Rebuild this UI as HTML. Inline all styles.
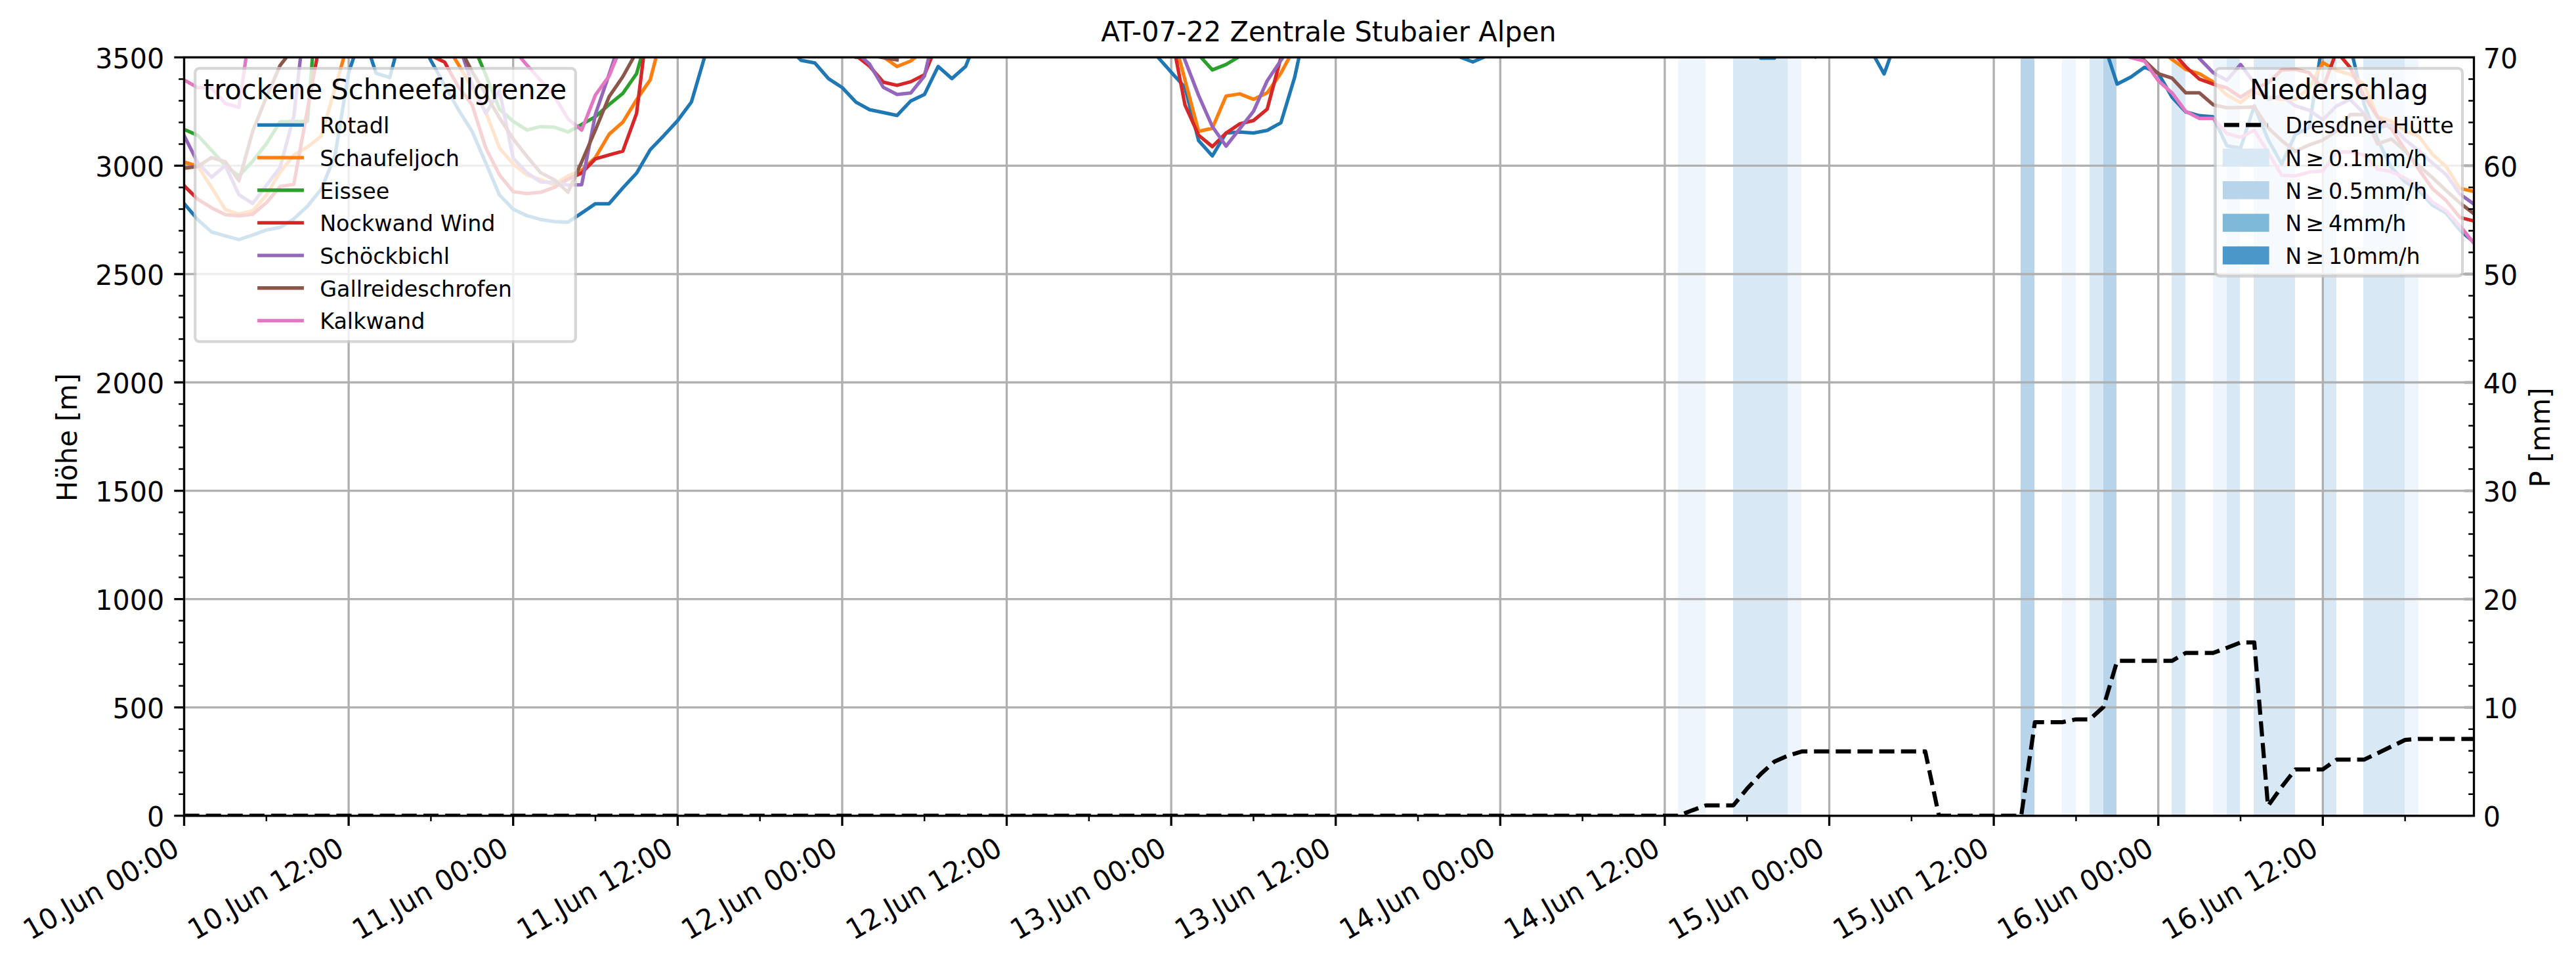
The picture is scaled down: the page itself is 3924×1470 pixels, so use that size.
<!DOCTYPE html>
<html lang="de"><head><meta charset="utf-8"><title>AT-07-22 Zentrale Stubaier Alpen</title>
<style>html,body{margin:0;padding:0;background:#fff}svg{display:block}text{font-family:"DejaVu Sans","Liberation Sans",sans-serif;fill:#000}.t10{font-size:41.667px}.t8{font-size:33.333px}</style>
</head><body>
<svg width="3924" height="1470" viewBox="0 0 3924 1470">
<rect width="3924" height="1470" fill="#fff"/>
<clipPath id="ax"><rect x="280.5" y="87.4" width="3488" height="1155.3"/></clipPath>
<g clip-path="url(#ax)" shape-rendering="crispEdges">
<rect x="2556.2" y="87.4" width="41.77" height="1155.3" fill="#eef5fc"/>
<rect x="2639.74" y="87.4" width="83.53" height="1155.3" fill="#d9e8f5"/>
<rect x="2723.27" y="87.4" width="20.88" height="1155.3" fill="#eef5fc"/>
<rect x="3078.29" y="87.4" width="20.88" height="1155.3" fill="#b7d4ea"/>
<rect x="3140.94" y="87.4" width="20.88" height="1155.3" fill="#eef5fc"/>
<rect x="3182.71" y="87.4" width="20.88" height="1155.3" fill="#d9e8f5"/>
<rect x="3203.59" y="87.4" width="20.88" height="1155.3" fill="#b7d4ea"/>
<rect x="3308.01" y="87.4" width="20.88" height="1155.3" fill="#d9e8f5"/>
<rect x="3370.66" y="87.4" width="20.88" height="1155.3" fill="#eef5fc"/>
<rect x="3391.54" y="87.4" width="20.88" height="1155.3" fill="#d9e8f5"/>
<rect x="3433.31" y="87.4" width="62.65" height="1155.3" fill="#d9e8f5"/>
<rect x="3537.73" y="87.4" width="20.88" height="1155.3" fill="#d9e8f5"/>
<rect x="3600.38" y="87.4" width="62.65" height="1155.3" fill="#d9e8f5"/>
<rect x="3663.03" y="87.4" width="20.88" height="1155.3" fill="#eef5fc"/>
</g>
<g stroke="#b0b0b0" stroke-width="3.333" fill="none">
<path d="M280.5 1242.7V87.4M531.1 1242.7V87.4M781.7 1242.7V87.4M1032.31 1242.7V87.4M1282.91 1242.7V87.4M1533.51 1242.7V87.4M1784.11 1242.7V87.4M2034.71 1242.7V87.4M2285.32 1242.7V87.4M2535.92 1242.7V87.4M2786.52 1242.7V87.4M3037.12 1242.7V87.4M3287.72 1242.7V87.4M3538.33 1242.7V87.4M280.5 1242.7H3768.5M280.5 1077.66H3768.5M280.5 912.61H3768.5M280.5 747.57H3768.5M280.5 582.53H3768.5M280.5 417.49H3768.5M280.5 252.44H3768.5M280.5 87.4H3768.5"/>
</g>
<g clip-path="url(#ax)" fill="none" stroke-width="5.3" stroke-linejoin="round" stroke-linecap="square">
<polyline stroke="#1f77b4" points="280.5,310.1 301.38,334.7 322.27,353.4 343.15,359.3 364.03,365 384.92,358 405.8,350.3 426.68,346.4 447.57,333.4 468.45,314 489.34,288.1 510.22,237.5 531.1,110.7 551.99,48 572.87,111.5 593.75,118.1 614.64,38.7 635.52,52.6 656.4,92.2 677.29,129.7 698.17,166.8 719.05,199.8 739.94,248.2 760.82,297 781.7,318.6 802.59,328.5 823.47,334.3 844.35,337.6 865.24,338.5 886.12,324.5 907,310.3 927.89,310.3 948.77,286.2 969.66,263.8 990.54,228 1011.42,206.3 1032.31,183.6 1053.19,155.5 1074.07,84.3 1094.96,40 1115.84,30 1136.72,30 1157.61,30 1178.49,30 1199.37,71 1220.26,91.9 1241.14,95.8 1262.02,119.8 1282.91,133.4 1303.79,155.5 1324.68,167.1 1345.56,171.4 1366.44,175.9 1387.33,153.8 1408.21,143.8 1429.09,101.2 1449.98,119.8 1470.86,101.2 1491.74,50 1512.63,30 1533.51,30 1554.39,30 1575.28,30 1596.16,30 1617.04,30 1637.93,30 1658.81,30 1679.69,30 1700.58,30 1721.46,30 1742.35,60 1763.23,86.6 1784.11,109.9 1805,133.1 1825.88,214.3 1846.76,237.5 1867.65,202.7 1888.53,201.1 1909.41,202.7 1930.3,198.6 1951.18,187 1972.06,118.1 1992.95,22 2013.83,30 2034.71,30 2055.6,30 2076.48,30 2097.36,30 2118.25,30 2139.13,30 2160.02,30 2180.9,30 2201.78,30 2222.67,86.2 2243.55,94.4 2264.43,85.2 2285.32,30 2306.2,30 2327.08,30 2347.97,30 2368.85,30 2389.73,30 2410.62,30 2431.5,30 2452.38,30 2473.27,30 2494.15,30 2515.03,30 2535.92,30 2556.8,30 2577.68,30 2598.57,30 2619.45,30 2640.34,30 2661.22,40 2682.1,88.6 2702.99,88.6 2723.87,40 2744.75,60 2765.64,87 2786.52,60 2807.4,30 2828.29,30 2849.17,75.2 2870.05,112.7 2890.94,54.5 2911.82,30 2932.7,30 2953.59,30 2974.47,30 2995.36,30 3016.24,30 3037.12,30 3058.01,30 3078.89,30 3099.77,30 3120.66,30 3141.54,30 3162.42,30 3183.31,30 3204.19,64.6 3225.07,128.1 3245.96,117.3 3266.84,102.4 3287.72,111.5 3308.61,148 3329.49,170.4 3350.37,176.2 3371.26,177.8 3392.14,222.1 3413.03,225.5 3433.91,161.3 3454.79,212.2 3475.68,249.8 3496.56,204.7 3517.44,194.4 3538.33,61 3559.21,40 3580.09,70.2 3600.98,157.9 3621.86,212.7 3642.74,255.2 3663.63,276.8 3684.51,290.2 3705.39,312.6 3726.28,324.5 3747.16,350.9 3768.04,368.4"/>
<polyline stroke="#ff7f0e" points="280.5,246.8 301.38,253.1 322.27,285.5 343.15,319.2 364.03,326.2 384.92,321.2 405.8,297.2 426.68,262.2 447.57,236.3 468.45,224 489.34,207.3 510.22,134.8 531.1,62 551.99,30 572.87,30 593.75,30 614.64,30 635.52,30 656.4,30 677.29,63.7 698.17,98.2 719.05,133.6 739.94,170.4 760.82,225.4 781.7,249.8 802.59,266.3 823.47,273.8 844.35,281.3 865.24,268 886.12,259.7 907,239.9 927.89,204.5 948.77,186.1 969.66,152.1 990.54,121.5 1011.42,41 1032.31,30 1053.19,30 1074.07,30 1094.96,30 1115.84,30 1136.72,30 1157.61,30 1178.49,30 1199.37,30 1220.26,30 1241.14,30 1262.02,30 1282.91,30 1303.79,30 1324.68,70 1345.56,86.5 1366.44,101.4 1387.33,92.9 1408.21,76 1429.09,30 1449.98,30 1470.86,30 1491.74,30 1512.63,30 1533.51,30 1554.39,30 1575.28,30 1596.16,30 1617.04,30 1637.93,30 1658.81,30 1679.69,30 1700.58,30 1721.46,30 1742.35,30 1763.23,30 1784.11,42.7 1805,121.5 1825.88,200.2 1846.76,195.3 1867.65,146.3 1888.53,143 1909.41,151.3 1930.3,141.4 1951.18,111.5 1972.06,72.5 1992.95,30 2013.83,30 2034.71,30 2055.6,30 2076.48,30 2097.36,30 2118.25,30 2139.13,30 2160.02,30 2180.9,30 2201.78,30 2222.67,30 2243.55,30 2264.43,30 2285.32,30 2306.2,30 2327.08,30 2347.97,30 2368.85,30 2389.73,30 2410.62,30 2431.5,30 2452.38,30 2473.27,30 2494.15,30 2515.03,30 2535.92,30 2556.8,30 2577.68,30 2598.57,30 2619.45,30 2640.34,30 2661.22,30 2682.1,30 2702.99,30 2723.87,30 2744.75,30 2765.64,30 2786.52,30 2807.4,30 2828.29,30 2849.17,30 2870.05,30 2890.94,30 2911.82,30 2932.7,30 2953.59,30 2974.47,30 2995.36,30 3016.24,30 3037.12,30 3058.01,30 3078.89,30 3099.77,30 3120.66,30 3141.54,30 3162.42,30 3183.31,30 3204.19,30 3225.07,30 3245.96,30 3266.84,30 3287.72,75 3308.61,90.3 3329.49,105.7 3350.37,112.3 3371.26,124.8 3392.14,144.7 3413.03,156.3 3433.91,139.7 3454.79,148 3475.68,151.3 3496.56,151.3 3517.44,134.7 3538.33,95.3 3559.21,107.4 3580.09,113.2 3600.98,128.1 3621.86,177.8 3642.74,184.5 3663.63,199.4 3684.51,207.7 3705.39,235 3726.28,253.9 3747.16,287 3768.04,291.6"/>
<polyline stroke="#2ca02c" points="280.5,197.1 301.38,206.3 322.27,229 343.15,252 364.03,268 384.92,245.5 405.8,219 426.68,185.7 447.57,184.9 468.45,184.9 489.34,-86 510.22,30 531.1,30 551.99,30 572.87,30 593.75,30 614.64,30 635.52,30 656.4,30 677.29,30 698.17,30 719.05,64.6 739.94,114 760.82,166.2 781.7,184.8 802.59,198.1 823.47,192.8 844.35,193.8 865.24,201.1 886.12,189.5 907,177.8 927.89,159.3 948.77,142.2 969.66,112.3 990.54,39 1011.42,30 1032.31,30 1053.19,30 1074.07,30 1094.96,30 1115.84,30 1136.72,30 1157.61,30 1178.49,30 1199.37,30 1220.26,30 1241.14,30 1262.02,30 1282.91,30 1303.79,30 1324.68,30 1345.56,30 1366.44,30 1387.33,30 1408.21,30 1429.09,30 1449.98,30 1470.86,30 1491.74,30 1512.63,30 1533.51,30 1554.39,30 1575.28,30 1596.16,30 1617.04,30 1637.93,30 1658.81,30 1679.69,30 1700.58,30 1721.46,30 1742.35,30 1763.23,30 1784.11,30 1805,60 1825.88,83.3 1846.76,106.5 1867.65,98.2 1888.53,85.8 1909.41,70 1930.3,30 1951.18,30 1972.06,30 1992.95,30 2013.83,30 2034.71,30 2055.6,30 2076.48,30 2097.36,30 2118.25,30 2139.13,30 2160.02,30 2180.9,30 2201.78,30 2222.67,30 2243.55,30 2264.43,30 2285.32,30 2306.2,30 2327.08,30 2347.97,30 2368.85,30 2389.73,30 2410.62,30 2431.5,30 2452.38,30 2473.27,30 2494.15,30 2515.03,30 2535.92,30 2556.8,30 2577.68,30 2598.57,30 2619.45,30 2640.34,30 2661.22,30 2682.1,30 2702.99,30 2723.87,30 2744.75,30 2765.64,30 2786.52,30 2807.4,30 2828.29,30 2849.17,30 2870.05,30 2890.94,30 2911.82,30 2932.7,30 2953.59,30 2974.47,30 2995.36,30 3016.24,30 3037.12,30 3058.01,30 3078.89,30 3099.77,30 3120.66,30 3141.54,30 3162.42,30 3183.31,30 3204.19,30 3225.07,30 3245.96,30 3266.84,30 3287.72,30 3308.61,30 3329.49,30 3350.37,30 3371.26,30 3392.14,30 3413.03,30 3433.91,30 3454.79,30 3475.68,30 3496.56,30 3517.44,30 3538.33,30 3559.21,30 3580.09,30 3600.98,30 3621.86,30 3642.74,30 3663.63,30 3684.51,30 3705.39,30 3726.28,30 3747.16,30 3768.04,30"/>
<polyline stroke="#d62728" points="280.5,282.9 301.38,303.6 322.27,316.6 343.15,326.9 364.03,328.8 384.92,326.4 405.8,308.8 426.68,284.2 447.57,280.8 468.45,166.7 489.34,52.5 510.22,30 531.1,30 551.99,30 572.87,30 593.75,30 614.64,30 635.52,80 656.4,84.5 677.29,94.6 698.17,132.2 719.05,159.3 739.94,225.4 760.82,266.3 781.7,292 802.59,294.9 823.47,292.9 844.35,285.4 865.24,273 886.12,263.5 907,242 927.89,236 948.77,230.2 969.66,172.9 990.54,3.7 1011.42,30 1032.31,30 1053.19,30 1074.07,30 1094.96,30 1115.84,30 1136.72,30 1157.61,30 1178.49,30 1199.37,30 1220.26,30 1241.14,30 1262.02,76 1282.91,80 1303.79,84.5 1324.68,101 1345.56,125.1 1366.44,130 1387.33,124.5 1408.21,113.8 1429.09,62.6 1449.98,30 1470.86,30 1491.74,30 1512.63,30 1533.51,30 1554.39,30 1575.28,30 1596.16,30 1617.04,30 1637.93,30 1658.81,30 1679.69,30 1700.58,30 1721.46,30 1742.35,30 1763.23,30 1784.11,51.3 1805,159.6 1825.88,206 1846.76,223.4 1867.65,202.7 1888.53,188.6 1909.41,183.6 1930.3,166.2 1951.18,87.8 1972.06,40 1992.95,30 2013.83,30 2034.71,30 2055.6,30 2076.48,30 2097.36,30 2118.25,30 2139.13,30 2160.02,30 2180.9,30 2201.78,30 2222.67,30 2243.55,30 2264.43,30 2285.32,30 2306.2,30 2327.08,30 2347.97,30 2368.85,30 2389.73,30 2410.62,30 2431.5,30 2452.38,30 2473.27,30 2494.15,30 2515.03,30 2535.92,30 2556.8,30 2577.68,30 2598.57,30 2619.45,30 2640.34,30 2661.22,30 2682.1,30 2702.99,30 2723.87,30 2744.75,30 2765.64,30 2786.52,30 2807.4,30 2828.29,30 2849.17,30 2870.05,30 2890.94,30 2911.82,30 2932.7,30 2953.59,30 2974.47,30 2995.36,30 3016.24,30 3037.12,30 3058.01,30 3078.89,30 3099.77,30 3120.66,30 3141.54,30 3162.42,30 3183.31,30 3204.19,30 3225.07,30 3245.96,30 3266.84,30 3287.72,30 3308.61,78.3 3329.49,101.6 3350.37,120.6 3371.26,128.1 3392.14,133.9 3413.03,148 3433.91,134.7 3454.79,126.4 3475.68,106.5 3496.56,105.7 3517.44,110.7 3538.33,134.7 3559.21,78.3 3580.09,103 3600.98,145.5 3621.86,178.7 3642.74,196.1 3663.63,228 3684.51,257.9 3705.39,287.6 3726.28,305.6 3747.16,331.2 3768.04,336.6"/>
<polyline stroke="#9467bd" points="280.5,206.7 301.38,248 322.27,270 343.15,252 364.03,296.8 384.92,310 405.8,282.5 426.68,254.9 447.57,177.2 468.45,-6.6 489.34,30 510.22,30 531.1,30 551.99,30 572.87,30 593.75,30 614.64,30 635.52,30 656.4,30 677.29,30 698.17,65 719.05,128 739.94,172.9 760.82,138 781.7,241 802.59,263 823.47,277.1 844.35,277.9 865.24,282.1 886.12,281.3 907,174 927.89,113.2 948.77,50 969.66,30 990.54,30 1011.42,30 1032.31,30 1053.19,30 1074.07,30 1094.96,30 1115.84,30 1136.72,30 1157.61,30 1178.49,30 1199.37,30 1220.26,30 1241.14,30 1262.02,30 1282.91,30 1303.79,78.3 1324.68,97.8 1345.56,133 1366.44,143.8 1387.33,141.6 1408.21,115.8 1429.09,25 1449.98,30 1470.86,30 1491.74,30 1512.63,30 1533.51,30 1554.39,30 1575.28,30 1596.16,30 1617.04,30 1637.93,30 1658.81,30 1679.69,30 1700.58,30 1721.46,30 1742.35,30 1763.23,30 1784.11,39 1805,91.6 1825.88,145.5 1846.76,192.8 1867.65,222.6 1888.53,196.1 1909.41,169.6 1930.3,123.1 1951.18,91.9 1972.06,63 1992.95,30 2013.83,30 2034.71,30 2055.6,30 2076.48,30 2097.36,30 2118.25,30 2139.13,30 2160.02,30 2180.9,30 2201.78,30 2222.67,30 2243.55,30 2264.43,30 2285.32,30 2306.2,30 2327.08,30 2347.97,30 2368.85,30 2389.73,30 2410.62,30 2431.5,30 2452.38,30 2473.27,30 2494.15,30 2515.03,30 2535.92,30 2556.8,30 2577.68,30 2598.57,30 2619.45,30 2640.34,30 2661.22,30 2682.1,30 2702.99,30 2723.87,30 2744.75,30 2765.64,30 2786.52,30 2807.4,30 2828.29,30 2849.17,30 2870.05,30 2890.94,30 2911.82,30 2932.7,30 2953.59,30 2974.47,30 2995.36,30 3016.24,30 3037.12,30 3058.01,30 3078.89,30 3099.77,30 3120.66,30 3141.54,30 3162.42,30 3183.31,30 3204.19,30 3225.07,30 3245.96,30 3266.84,30 3287.72,30 3308.61,30 3329.49,60 3350.37,89.1 3371.26,110.7 3392.14,122.3 3413.03,98.2 3433.91,126.4 3454.79,151.3 3475.68,146.3 3496.56,161.3 3517.44,167.9 3538.33,182.4 3559.21,161.3 3580.09,151.3 3600.98,172.9 3621.86,194.4 3642.74,190.3 3663.63,212.7 3684.51,229.8 3705.39,248.5 3726.28,266 3747.16,295.6 3768.04,310.5"/>
<polyline stroke="#8c564b" points="280.5,256.2 301.38,253.6 322.27,240.1 343.15,246.2 364.03,275.3 384.92,200 405.8,148 426.68,99.6 447.57,73 468.45,30 489.34,30 510.22,30 531.1,30 551.99,30 572.87,30 593.75,30 614.64,30 635.52,30 656.4,30 677.29,30 698.17,68.2 719.05,109 739.94,143 760.82,179.5 781.7,211.3 802.59,238.2 823.47,263 844.35,273.8 865.24,292.9 886.12,246.5 907,198 927.89,147.2 948.77,116.8 969.66,79.2 990.54,40 1011.42,30 1032.31,30 1053.19,30 1074.07,30 1094.96,30 1115.84,30 1136.72,30 1157.61,30 1178.49,30 1199.37,30 1220.26,30 1241.14,30 1262.02,30 1282.91,80 1303.79,87.3 1324.68,84.2 1345.56,87.8 1366.44,91.2"/>
<polyline stroke="#8c564b" points="3245.96,72 3266.84,92.4 3287.72,112.3 3308.61,119 3329.49,141.4 3350.37,141.4 3371.26,159.6 3392.14,164.2 3413.03,163.7 3433.91,163 3454.79,194.4 3475.68,214.1 3496.56,230.7 3517.44,220.7 3538.33,213.4 3559.21,199.7 3580.09,174.5 3600.98,174.5 3621.86,219.3 3642.74,211.8 3663.63,229.8 3684.51,252.5 3705.39,270.6 3726.28,290.2 3747.16,309.1 3768.04,325.3"/>
<polyline stroke="#e377c2" points="280.5,121.8 301.38,133.6 322.27,134 343.15,157.6 364.03,163.5 384.92,16 405.8,30 426.68,30 447.57,30 468.45,30 489.34,30 510.22,30 531.1,30 551.99,30 572.87,30 593.75,30 614.64,30 635.52,30 656.4,30 677.29,30 698.17,30 719.05,30 739.94,30 760.82,30 781.7,74.4 802.59,99.1 823.47,122.3 844.35,146.3 865.24,181.2 886.12,198.1 907,144.7 927.89,115.7 948.77,64.7 969.66,30 990.54,30 1011.42,30 1032.31,30 1053.19,30 1074.07,30 1094.96,30 1115.84,30 1136.72,30 1157.61,30 1178.49,30 1199.37,30 1220.26,30 1241.14,30 1262.02,30 1282.91,30 1303.79,30 1324.68,30 1345.56,30 1366.44,30 1387.33,30 1408.21,30 1429.09,30 1449.98,30 1470.86,30 1491.74,30 1512.63,30 1533.51,30 1554.39,30 1575.28,30 1596.16,30 1617.04,30 1637.93,30 1658.81,30 1679.69,30 1700.58,30 1721.46,30 1742.35,30 1763.23,30 1784.11,30 1805,30 1825.88,30 1846.76,30 1867.65,30 1888.53,30 1909.41,30 1930.3,30 1951.18,30 1972.06,30 1992.95,30 2013.83,30 2034.71,30 2055.6,30 2076.48,30 2097.36,30 2118.25,30 2139.13,30 2160.02,30 2180.9,30 2201.78,30 2222.67,30 2243.55,30 2264.43,30 2285.32,30 2306.2,30 2327.08,30 2347.97,30 2368.85,30 2389.73,30 2410.62,30 2431.5,30 2452.38,30 2473.27,30 2494.15,30 2515.03,30 2535.92,30 2556.8,30 2577.68,30 2598.57,30 2619.45,30 2640.34,30 2661.22,30 2682.1,30 2702.99,30 2723.87,30 2744.75,30 2765.64,30 2786.52,30 2807.4,30 2828.29,30 2849.17,30 2870.05,30 2890.94,30 2911.82,30 2932.7,30 2953.59,30 2974.47,30 2995.36,30 3016.24,30 3037.12,30 3058.01,30 3078.89,30 3099.77,30 3120.66,30 3141.54,30 3162.42,30 3183.31,30 3204.19,30 3225.07,80 3245.96,87.8 3266.84,93.3 3287.72,123.1 3308.61,141.4 3329.49,169.6 3350.37,180.3 3371.26,180.3 3392.14,203.4 3413.03,209.2 3433.91,198.4 3454.79,231.5 3475.68,267.2 3496.56,268 3517.44,262.2 3538.33,260.5 3559.21,231.5 3580.09,231.5 3600.98,236 3621.86,257.9 3642.74,261.4 3663.63,271.4 3684.51,284.9 3705.39,307.8 3726.28,321 3747.16,344 3768.04,370"/>
</g>
<rect x="297.2" y="104.1" width="579.6" height="416.3" rx="6.67" ry="6.67" fill="#fff" stroke="#ccc" stroke-width="4.167" opacity="0.8"/>
<text class="t10" transform="translate(309.8 151.4) scale(1 1.04)">trockene Schneefallgrenze</text>
<path d="M392.1 190.4H462.9" stroke="#1f77b4" stroke-width="5.3" fill="none"/>
<text class="t8" transform="translate(487.17 203.2) scale(1 1.01)">Rotadl</text>
<path d="M392.1 240.07H462.9" stroke="#ff7f0e" stroke-width="5.3" fill="none"/>
<text class="t8" transform="translate(487.17 252.87) scale(1 1.01)">Schaufeljoch</text>
<path d="M392.1 289.73H462.9" stroke="#2ca02c" stroke-width="5.3" fill="none"/>
<text class="t8" transform="translate(487.17 302.53) scale(1 1.01)">Eissee</text>
<path d="M392.1 339.4H462.9" stroke="#d62728" stroke-width="5.3" fill="none"/>
<text class="t8" transform="translate(487.17 352.2) scale(1 1.01)">Nockwand Wind</text>
<path d="M392.1 389.07H462.9" stroke="#9467bd" stroke-width="5.3" fill="none"/>
<text class="t8" transform="translate(487.17 401.87) scale(1 1.01)">Schöckbichl</text>
<path d="M392.1 438.74H462.9" stroke="#8c564b" stroke-width="5.3" fill="none"/>
<text class="t8" transform="translate(487.17 451.53) scale(1 1.01)">Gallreideschrofen</text>
<path d="M392.1 488.4H462.9" stroke="#e377c2" stroke-width="5.3" fill="none"/>
<text class="t8" transform="translate(487.17 501.2) scale(1 1.01)">Kalkwand</text>
<g clip-path="url(#ax)"><polyline points="280.5,1242.7 301.38,1242.7 322.27,1242.7 343.15,1242.7 364.03,1242.7 384.92,1242.7 405.8,1242.7 426.68,1242.7 447.57,1242.7 468.45,1242.7 489.34,1242.7 510.22,1242.7 531.1,1242.7 551.99,1242.7 572.87,1242.7 593.75,1242.7 614.64,1242.7 635.52,1242.7 656.4,1242.7 677.29,1242.7 698.17,1242.7 719.05,1242.7 739.94,1242.7 760.82,1242.7 781.7,1242.7 802.59,1242.7 823.47,1242.7 844.35,1242.7 865.24,1242.7 886.12,1242.7 907,1242.7 927.89,1242.7 948.77,1242.7 969.66,1242.7 990.54,1242.7 1011.42,1242.7 1032.31,1242.7 1053.19,1242.7 1074.07,1242.7 1094.96,1242.7 1115.84,1242.7 1136.72,1242.7 1157.61,1242.7 1178.49,1242.7 1199.37,1242.7 1220.26,1242.7 1241.14,1242.7 1262.02,1242.7 1282.91,1242.7 1303.79,1242.7 1324.68,1242.7 1345.56,1242.7 1366.44,1242.7 1387.33,1242.7 1408.21,1242.7 1429.09,1242.7 1449.98,1242.7 1470.86,1242.7 1491.74,1242.7 1512.63,1242.7 1533.51,1242.7 1554.39,1242.7 1575.28,1242.7 1596.16,1242.7 1617.04,1242.7 1637.93,1242.7 1658.81,1242.7 1679.69,1242.7 1700.58,1242.7 1721.46,1242.7 1742.35,1242.7 1763.23,1242.7 1784.11,1242.7 1805,1242.7 1825.88,1242.7 1846.76,1242.7 1867.65,1242.7 1888.53,1242.7 1909.41,1242.7 1930.3,1242.7 1951.18,1242.7 1972.06,1242.7 1992.95,1242.7 2013.83,1242.7 2034.71,1242.7 2055.6,1242.7 2076.48,1242.7 2097.36,1242.7 2118.25,1242.7 2139.13,1242.7 2160.02,1242.7 2180.9,1242.7 2201.78,1242.7 2222.67,1242.7 2243.55,1242.7 2264.43,1242.7 2285.32,1242.7 2306.2,1242.7 2327.08,1242.7 2347.97,1242.7 2368.85,1242.7 2389.73,1242.7 2410.62,1242.7 2431.5,1242.7 2452.38,1242.7 2473.27,1242.7 2494.15,1242.7 2515.03,1242.7 2535.92,1242.7 2556.8,1242.7 2577.68,1234.45 2598.57,1226.86 2619.45,1226.86 2640.34,1226.86 2661.22,1201.44 2682.1,1179.16 2702.99,1160.18 2723.87,1151.1 2744.75,1144.66 2765.64,1144.66 2786.52,1144.66 2807.4,1144.66 2828.29,1144.66 2849.17,1144.66 2870.05,1144.66 2890.94,1144.66 2911.82,1144.66 2932.7,1144.66 2953.59,1242.7 2974.47,1242.7 2995.36,1242.7 3016.24,1242.7 3037.12,1242.7 3058.01,1242.7 3078.89,1242.7 3099.77,1100.1 3120.66,1100.1 3141.54,1100.1 3162.42,1095.81 3183.31,1095.81 3204.19,1076.83 3225.07,1006.69 3245.96,1006.69 3266.84,1006.69 3287.72,1006.69 3308.61,1006.69 3329.49,994.64 3350.37,994.64 3371.26,994.64 3392.14,986.88 3413.03,978.63 3433.91,978.63 3454.79,1227.85 3475.68,1198.63 3496.56,1172.06 3517.44,1172.06 3538.33,1172.06 3559.21,1157.21 3580.09,1157.21 3600.98,1157.21 3621.86,1147.31 3642.74,1137.24 3663.63,1127.17 3684.51,1125.52 3705.39,1125.52 3726.28,1125.52 3747.16,1125.52 3768.04,1125.52" fill="none" stroke="#000" stroke-width="6.25" stroke-dasharray="23.125 10" stroke-dashoffset="0" stroke-linejoin="round"/></g>
<path d="M280.5 1242.7h-15.2M280.5 1077.66h-15.2M280.5 912.61h-15.2M280.5 747.57h-15.2M280.5 582.53h-15.2M280.5 417.49h-15.2M280.5 252.44h-15.2M280.5 87.4h-15.2M280.5 1242.7v15.2M531.1 1242.7v15.2M781.7 1242.7v15.2M1032.31 1242.7v15.2M1282.91 1242.7v15.2M1533.51 1242.7v15.2M1784.11 1242.7v15.2M2034.71 1242.7v15.2M2285.32 1242.7v15.2M2535.92 1242.7v15.2M2786.52 1242.7v15.2M3037.12 1242.7v15.2M3287.72 1242.7v15.2M3538.33 1242.7v15.2" stroke="#000" stroke-width="3.333" fill="none"/>
<path d="M280.5 1209.69h-8.33M280.5 1176.68h-8.33M280.5 1143.67h-8.33M280.5 1110.67h-8.33M280.5 1044.65h-8.33M280.5 1011.64h-8.33M280.5 978.63h-8.33M280.5 945.62h-8.33M280.5 879.61h-8.33M280.5 846.6h-8.33M280.5 813.59h-8.33M280.5 780.58h-8.33M280.5 714.56h-8.33M280.5 681.55h-8.33M280.5 648.55h-8.33M280.5 615.54h-8.33M280.5 549.52h-8.33M280.5 516.51h-8.33M280.5 483.5h-8.33M280.5 450.49h-8.33M280.5 384.48h-8.33M280.5 351.47h-8.33M280.5 318.46h-8.33M280.5 285.45h-8.33M280.5 219.43h-8.33M280.5 186.43h-8.33M280.5 153.42h-8.33M280.5 120.41h-8.33M405.8 1242.7v8.33M656.4 1242.7v8.33M907 1242.7v8.33M1157.61 1242.7v8.33M1408.21 1242.7v8.33M1658.81 1242.7v8.33M1909.41 1242.7v8.33M2160.02 1242.7v8.33M2410.62 1242.7v8.33M2661.22 1242.7v8.33M2911.82 1242.7v8.33M3162.42 1242.7v8.33M3413.03 1242.7v8.33M3663.63 1242.7v8.33M3768.5 1209.69h-8.33M3768.5 1176.68h-8.33M3768.5 1143.67h-8.33M3768.5 1110.67h-8.33M3768.5 1044.65h-8.33M3768.5 1011.64h-8.33M3768.5 978.63h-8.33M3768.5 945.62h-8.33M3768.5 879.61h-8.33M3768.5 846.6h-8.33M3768.5 813.59h-8.33M3768.5 780.58h-8.33M3768.5 714.56h-8.33M3768.5 681.55h-8.33M3768.5 648.55h-8.33M3768.5 615.54h-8.33M3768.5 549.52h-8.33M3768.5 516.51h-8.33M3768.5 483.5h-8.33M3768.5 450.49h-8.33M3768.5 384.48h-8.33M3768.5 351.47h-8.33M3768.5 318.46h-8.33M3768.5 285.45h-8.33M3768.5 219.43h-8.33M3768.5 186.43h-8.33M3768.5 153.42h-8.33M3768.5 120.41h-8.33" stroke="#000" stroke-width="2.5" fill="none"/>
<path d="M3768.5 1077.66h-14.58M3768.5 912.61h-14.58M3768.5 747.57h-14.58M3768.5 582.53h-14.58M3768.5 417.49h-14.58M3768.5 252.44h-14.58" stroke="#b0b0b0" stroke-width="4.3" fill="none"/>
<rect x="280.5" y="87.4" width="3488" height="1155.3" fill="none" stroke="#000" stroke-width="3.333"/>
<text class="t10" text-anchor="end" transform="translate(250.3 1259.2) scale(0.99 1.04)">0</text>
<text class="t10" text-anchor="end" transform="translate(250.3 1094.16) scale(0.99 1.04)">500</text>
<text class="t10" text-anchor="end" transform="translate(250.3 929.11) scale(0.99 1.04)">1000</text>
<text class="t10" text-anchor="end" transform="translate(250.3 764.07) scale(0.99 1.04)">1500</text>
<text class="t10" text-anchor="end" transform="translate(250.3 599.03) scale(0.99 1.04)">2000</text>
<text class="t10" text-anchor="end" transform="translate(250.3 433.99) scale(0.99 1.04)">2500</text>
<text class="t10" text-anchor="end" transform="translate(250.3 268.94) scale(0.99 1.04)">3000</text>
<text class="t10" text-anchor="end" transform="translate(250.3 103.9) scale(0.99 1.04)">3500</text>
<text class="t10" transform="translate(3782.7 1259.2) scale(0.988 1.04)">0</text>
<text class="t10" transform="translate(3782.7 1094.16) scale(0.988 1.04)">10</text>
<text class="t10" transform="translate(3782.7 929.11) scale(0.988 1.04)">20</text>
<text class="t10" transform="translate(3782.7 764.07) scale(0.988 1.04)">30</text>
<text class="t10" transform="translate(3782.7 599.03) scale(0.988 1.04)">40</text>
<text class="t10" transform="translate(3782.7 433.99) scale(0.988 1.04)">50</text>
<text class="t10" transform="translate(3782.7 268.94) scale(0.988 1.04)">60</text>
<text class="t10" transform="translate(3782.7 103.9) scale(0.988 1.04)">70</text>
<text class="t10" transform="translate(46.83 1432.76) rotate(-30) scale(1 1.04)">10.Jun 00:00</text>
<text class="t10" transform="translate(297.54 1432.76) rotate(-30) scale(1 1.04)">10.Jun 12:00</text>
<text class="t10" transform="translate(548.04 1432.76) rotate(-30) scale(1 1.04)">11.Jun 00:00</text>
<text class="t10" transform="translate(798.75 1432.76) rotate(-30) scale(1 1.04)">11.Jun 12:00</text>
<text class="t10" transform="translate(1049.36 1432.76) rotate(-30) scale(1 1.04)">12.Jun 00:00</text>
<text class="t10" transform="translate(1300.07 1432.76) rotate(-30) scale(1 1.04)">12.Jun 12:00</text>
<text class="t10" transform="translate(1550.35 1432.76) rotate(-30) scale(1 1.04)">13.Jun 00:00</text>
<text class="t10" transform="translate(1801.06 1432.76) rotate(-30) scale(1 1.04)">13.Jun 12:00</text>
<text class="t10" transform="translate(2051.67 1432.76) rotate(-30) scale(1 1.04)">14.Jun 00:00</text>
<text class="t10" transform="translate(2302.38 1432.76) rotate(-30) scale(1 1.04)">14.Jun 12:00</text>
<text class="t10" transform="translate(2552.88 1432.76) rotate(-30) scale(1 1.04)">15.Jun 00:00</text>
<text class="t10" transform="translate(2803.59 1432.76) rotate(-30) scale(1 1.04)">15.Jun 12:00</text>
<text class="t10" transform="translate(3054.08 1432.76) rotate(-30) scale(1 1.04)">16.Jun 00:00</text>
<text class="t10" transform="translate(3304.8 1432.76) rotate(-30) scale(1 1.04)">16.Jun 12:00</text>
<text class="t10" transform="translate(117.3 764) rotate(-90) scale(1 1.04)">Höhe [m]</text>
<text class="t10" transform="translate(3883.9 742.5) rotate(-90) scale(1 1.04)">P [mm]</text>
<text class="t10" transform="translate(1677.2 63.3) scale(1 1.04)">AT-07-22 Zentrale Stubaier Alpen</text>
<rect x="3374.6" y="104.1" width="376.4" height="316.5" rx="6.67" ry="6.67" fill="#fff" stroke="#ccc" stroke-width="4.167" opacity="0.8"/>
<text class="t10" transform="translate(3426.9 151.4) scale(1 1.04)">Niederschlag</text>
<path d="M3387.9 190.4H3454.5" stroke="#000" stroke-width="6.25" stroke-dasharray="23.125 10" fill="none"/>
<text class="t8" transform="translate(3481.2 203.2) scale(1 1.01)">Dresdner Hütte</text>
<rect x="3385.8" y="226.32" width="70.8" height="27.5" fill="#d9e8f5"/>
<text class="t8" y="252.9"><tspan x="3481.2">N</tspan><tspan x="3512.6"> </tspan><tspan x="3512.6">≥</tspan><tspan x="3547.0"> </tspan><tspan x="3547.0">0.1mm/h</tspan></text>
<rect x="3385.8" y="275.99" width="70.8" height="27.5" fill="#b7d4ea"/>
<text class="t8" y="302.57"><tspan x="3481.2">N</tspan><tspan x="3512.6"> </tspan><tspan x="3512.6">≥</tspan><tspan x="3547.0"> </tspan><tspan x="3547.0">0.5mm/h</tspan></text>
<rect x="3385.8" y="325.65" width="70.8" height="27.5" fill="#7fb9da"/>
<text class="t8" y="352.23"><tspan x="3481.2">N</tspan><tspan x="3512.6"> </tspan><tspan x="3512.6">≥</tspan><tspan x="3547.0"> </tspan><tspan x="3547.0">4mm/h</tspan></text>
<rect x="3385.8" y="375.32" width="70.8" height="27.5" fill="#4a98c9"/>
<text class="t8" y="401.9"><tspan x="3481.2">N</tspan><tspan x="3512.6"> </tspan><tspan x="3512.6">≥</tspan><tspan x="3547.0"> </tspan><tspan x="3547.0">10mm/h</tspan></text>
</svg>
</body></html>
